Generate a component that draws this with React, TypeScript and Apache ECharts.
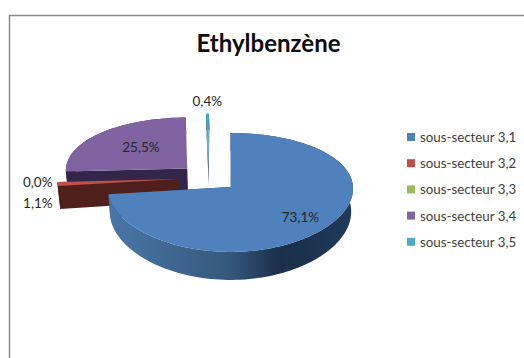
import React, { useEffect, useRef } from "react";
import * as echarts from "echarts";

// Sector shares, in percent
const categories = ["sous-secteur 3,1", "sous-secteur 3,2", "sous-secteur 3,3", "sous-secteur 3,4", "sous-secteur 3,5"];
const shares = [73.1, 1.1, 0.0, 25.5, 0.4];
const shareLabels = ["73,1%", "1,1%", "0,0%", "25,5%", "0,4%"];

const topColors = ["#4f81bd", "#c0504d", "#9bbb59", "#8064a2", "#4bacc6"];
const wallColors = ["#1f3a58", "#4f1f1c", "#4a5a2a", "#33264a", "#1f4a55"];

// Back to front, so that nearer slices cover farther ones
const drawOrder = [3, 4, 1, 2, 0];

// Radius and vertical nudge of each share label
const labelRadius = [0.75, 1.16, 1.16, 0.53, 1.28];
const labelNudge = [-1, 18, 0, -2, 0];

// Projection of the tilted disc onto the page
const CX = 230.5;
const CY = 187;
const RX = 122.5;
const RY = 59;
const TILT = 0.0924;
const SQUEEZE = 0.03;
const EXPLODE = 0.24;
const PIE_U = -0.18;
const PIE_V = 0.16;

const project = (u: number, v: number): [number, number] => [
  CX + (RX * u) / (1 + SQUEEZE * v),
  CY - (RY * v) / (1 + TILT * v),
];
const thickness = (v: number) => 23 - 5 * v;
const lower = (u: number, v: number): [number, number] => {
  const [x, y] = project(u, v);
  return [CX + (x - CX) * 0.985, y + thickness(v)];
};

const total = shares.reduce((a, b) => a + b, 0);
const toAngle = (s: number) => (s / total) * Math.PI * 2;

const sliceShape = (index: number) => {
  const before = shares.slice(0, index).reduce((a, b) => a + b, 0);
  const start = toAngle(before);
  const end = toAngle(before + shares[index]);
  const mid = (start + end) / 2;
  const ou = PIE_U + EXPLODE * Math.sin(mid);
  const ov = PIE_V + EXPLODE * Math.cos(mid);
  const steps = Math.max(2, Math.ceil(((end - start) / Math.PI) * 90));
  const rim: [number, number][] = [];
  for (let i = 0; i <= steps; i++) {
    const t = start + ((end - start) * i) / steps;
    rim.push([ou + Math.sin(t), ov + Math.cos(t)]);
  }
  return { mid, ou, ov, rim };
};

const blueWall = new echarts.graphic.LinearGradient(0, 0, 1, 0, [
  { offset: 0, color: "#4a76a8" },
  { offset: 0.5, color: "#35577c" },
  { offset: 0.7, color: "#1a2f4a" },
  { offset: 1, color: "#1f3a58" },
]);

const renderSlice = (index: number) => (_params: any, api: any) => {
  const value = api.value(0);
  const { mid, ou, ov, rim } = sliceShape(index);
  const children: any[] = [];
  if (value > 0) {
    const wallFill = index === 0 ? blueWall : wallColors[index];
    const topRim = rim.map(([u, v]) => project(u, v));
    const lowRim = rim.map(([u, v]) => lower(u, v)).reverse();
    const apexTop = project(ou, ov);
    const apexLow = lower(ou, ov);
    const first = rim[0];
    const last = rim[rim.length - 1];
    children.push(
      { type: "polygon", shape: { points: [apexTop, project(first[0], first[1]), lower(first[0], first[1]), apexLow] }, style: { fill: wallColors[index] } },
      { type: "polygon", shape: { points: [apexTop, project(last[0], last[1]), lower(last[0], last[1]), apexLow] }, style: { fill: wallColors[index] } },
      { type: "polygon", shape: { points: [...topRim, ...lowRim] }, style: { fill: wallFill } },
      { type: "polygon", shape: { points: [apexTop, ...topRim] }, style: { fill: topColors[index] } }
    );
  }
  const r = labelRadius[index];
  const [lx, ly] = project(ou + r * Math.sin(mid), ov + r * Math.cos(mid));
  children.push({
    type: "text",
    style: {
      text: shareLabels[index],
      x: lx,
      y: ly + labelNudge[index],
      align: "center",
      verticalAlign: "middle",
      fontFamily: "Lato",
      fontSize: 13.5,
      fill: "#262626",
    },
  });
  return { type: "group", children };
};

export default function App() {
  const ref = useRef<HTMLDivElement>(null);
  useEffect(() => {
    const chart = echarts.init(ref.current!, undefined, { renderer: "svg" });
    chart.setOption({
      animation: false,
      backgroundColor: "#ffffff",
      title: {
        text: "Ethylbenzène",
        left: 268.5,
        top: 30,
        padding: 0,
        textAlign: "center",
        textStyle: { fontFamily: "Lato", fontWeight: "bold", fontSize: 24, color: "#0d0d0d" },
      },
      legend: {
        data: categories,
        orient: "vertical",
        left: 407,
        top: 129,
        padding: 0,
        itemWidth: 8,
        itemHeight: 8,
        itemGap: 10.2,
        icon: "rect",
        textStyle: { fontFamily: "Lato", fontSize: 13.3, lineHeight: 16, color: "#404040" },
      },
      graphic: [
        {
          type: "polyline",
          shape: { points: [[9.5, 358], [9.5, 15.5], [524, 15.5]] },
          style: { stroke: "#8c8c8c", lineWidth: 1.5, fill: "none" },
        },
      ],
      series: drawOrder.map((i) => ({
        type: "custom",
        name: categories[i],
        coordinateSystem: "none",
        itemStyle: { color: topColors[i] },
        data: [[shares[i]]],
        renderItem: renderSlice(i),
      })),
    });
    return () => chart.dispose();
  }, []);
  return <div ref={ref} style={{ position: "fixed", left: 0, top: 0, width: 524, height: 358 }} />;
}
